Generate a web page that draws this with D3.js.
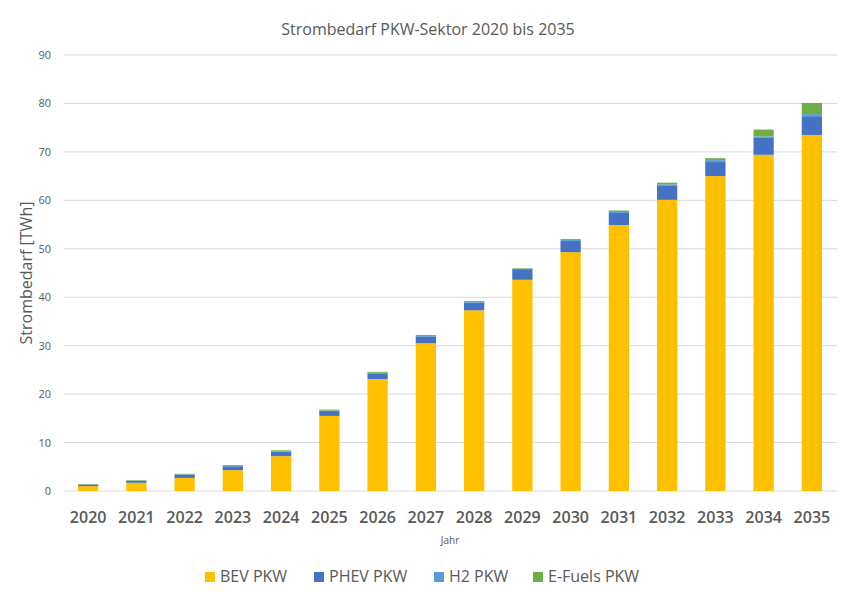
<!DOCTYPE html>
<html><head><meta charset="utf-8">
<script src="https://cdn.jsdelivr.net/npm/d3@7"></script>
<style>body{margin:0;background:#fff;font-family:"Open Sans",sans-serif}</style>
</head><body><svg width="846" height="592"></svg>
<script>
var years = ["2020","2021","2022","2023","2024","2025","2026","2027","2028","2029","2030","2031","2032","2033","2034","2035"];
var bev   = [1.0,1.7,2.7,4.3,7.2,15.5,23.1,30.5,37.3,43.6,49.3,54.9,60.1,65.0,69.4,73.5];
var phev  = [0.3,0.4,0.7,0.8,0.9,1.0,1.2,1.4,1.6,2.2,2.3,2.5,3.0,2.9,3.6,3.7];
var h2    = [0.05,0.05,0.05,0.05,0.1,0.1,0.1,0.1,0.1,0.1,0.2,0.2,0.2,0.4,0.2,0.6];
var efuel = [0.1,0.1,0.1,0.2,0.2,0.2,0.2,0.2,0.2,0.1,0.2,0.3,0.35,0.4,1.4,2.3];
var seriesNames = ["BEV PKW","PHEV PKW","H2 PKW","E-Fuels PKW"];
var colors = ["#ffc000","#4472c4","#5b9bd5","#70ad47"];
var yTicks = [0,10,20,30,40,50,60,70,80,90];

var svg = d3.select("svg");
var x = d3.scaleBand().domain(years).range([64,836]).paddingInner(0.58).paddingOuter(0.29);
var y = d3.scaleLinear().domain([0,90]).range([491,55]);

// gridlines
svg.append("g").selectAll("line").data(yTicks).enter().append("line")
  .attr("x1",64).attr("x2",837).attr("y1",function(d){return y(d);}).attr("y2",function(d){return y(d);})
  .attr("stroke","#d9d9d9").attr("stroke-width",1);

var table = years.map(function(yr,i){ return {year:yr, s0:bev[i], s1:phev[i], s2:h2[i], s3:efuel[i]}; });
var stack = d3.stack().keys(["s0","s1","s2","s3"])(table);

svg.append("g").selectAll("g").data(stack).enter().append("g")
  .attr("fill",function(d,i){return colors[i];})
  .selectAll("rect").data(function(d){return d;}).enter().append("rect")
  .attr("x",function(d){return x(d.data.year);})
  .attr("width",x.bandwidth())
  .attr("y",function(d){return y(d[1]);})
  .attr("height",function(d){return y(d[0])-y(d[1]);});

// y axis labels
svg.append("g").selectAll("text").data(yTicks).enter().append("text")
  .attr("x",51).attr("y",function(d){return y(d)+4;}).attr("text-anchor","end")
  .attr("font-size",11).attr("fill","#595959").text(function(d){return d;});

// x axis labels
svg.append("g").selectAll("text").data(years).enter().append("text")
  .attr("x",function(d){return x(d)+x.bandwidth()/2;}).attr("y",523).attr("text-anchor","middle")
  .attr("font-size",16).attr("font-weight",600).attr("fill","#595959").text(function(d){return d;});

svg.append("text").attr("x",428).attr("y",35).attr("text-anchor","middle")
  .attr("font-size",16).attr("fill","#595959").text("Strombedarf PKW-Sektor 2020 bis 2035");
svg.append("text").attr("x",450).attr("y",544).attr("text-anchor","middle")
  .attr("font-size",10).attr("fill","#595959").text("Jahr");
svg.append("text").attr("transform","translate(32,273) rotate(-90)").attr("text-anchor","middle")
  .attr("font-size",16).attr("fill","#595959").text("Strombedarf [TWh]");

// legend
var lx = [205,314,434,533];
var lg = svg.append("g").selectAll("g").data(seriesNames).enter().append("g")
  .attr("transform",function(d,i){return "translate("+lx[i]+",572)";});
lg.append("rect").attr("width",10).attr("height",10).attr("fill",function(d,i){return colors[i];});
lg.append("text").attr("x",15).attr("y",10).attr("font-size",16).attr("fill","#595959").text(function(d){return d;});
</script></body></html>
